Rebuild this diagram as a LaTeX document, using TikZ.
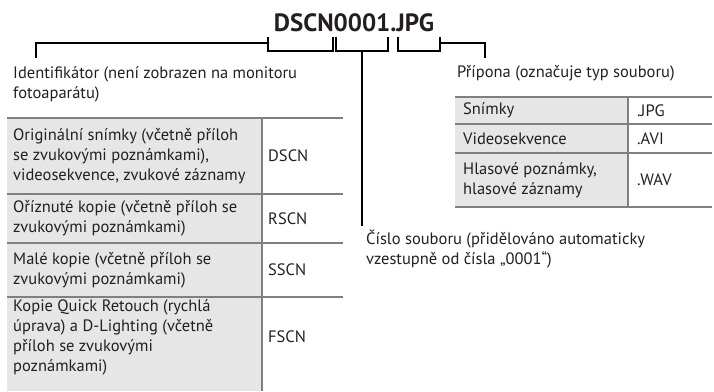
\documentclass[tikz,border=0pt]{standalone}
\usepackage{fontspec}
\setmainfont{PT Sans}
\definecolor{textc}{HTML}{231F20}
\definecolor{rulec}{HTML}{808080}
\definecolor{fillc}{HTML}{E6E6E6}
\begin{document}
\begin{tikzpicture}[x=1pt,y=-1pt,
  txt/.style={font=\fontsize{16.5}{20}\selectfont, text=textc, inner sep=0pt, align=left, anchor=west},
  rulex/.style={draw=rulec, line width=2.6pt},
  brk/.style={draw=black, line width=2pt},
  cellfill/.style={fill=fillc, draw=none}]
\useasboundingbox (0,0) rectangle (714,391);

% title
\node[font=\fontsize{25}{30}\selectfont\bfseries, text=textc, anchor=base, inner sep=0pt] (title) at (354,31) {DSCN0001.JPG};

% bracket coordinates
\coordinate (a1) at (268,37); \coordinate (a2) at (268,51);
\coordinate (a3) at (333,51); \coordinate (a4) at (333,37);
\coordinate (b1) at (336,37); \coordinate (b2) at (336,51);
\coordinate (b3) at (388,51); \coordinate (b4) at (388,37);
\coordinate (c1) at (398,37); \coordinate (c2) at (398,51);
\coordinate (c3) at (440,51); \coordinate (c4) at (440,37);
\coordinate (aL) at (268,43); \coordinate (aK) at (36,43); \coordinate (aE) at (36,58);
\coordinate (bM) at (362,51); \coordinate (bE) at (362,226);
\coordinate (cR) at (440,43); \coordinate (cK) at (485,43); \coordinate (cE) at (485,58);

\draw[brk] (a1) -- (a2) -- (a3) -- (a4);
\draw[brk] (b1) -- (b2) -- (b3) -- (b4);
\draw[brk] (c1) -- (c2) -- (c3) -- (c4);
\draw[brk] (aL) -- (aK) -- (aE);
\draw[brk] (bM) -- (bE);
\draw[brk] (cR) -- (cK) -- (cE);

% labels
\node[txt] (ident) at (13,84) {Identifikátor (není zobrazen na monitoru\\fotoaparátu)};
\node[txt] (pripona) at (457,73) {Přípona (označuje typ souboru)};
\node[txt] (cislo) at (366,249) {Číslo souboru (přidělováno automaticky\\vzestupně od čísla „0001“)};

% left table
\fill[fillc] (7,118) rectangle (262,391);
\draw[rulex] (7,118) -- (343,118);
\draw[rulex] (7,194) -- (343,194);
\draw[rulex] (7,243) -- (343,243);
\draw[rulex] (7,297) -- (343,297);
\draw[rulex] (262,118) -- (262,391);

\node[txt] (l1) at (13,156) {Originální snímky (včetně příloh\\se zvukovými poznámkami),\\videosekvence, zvukové záznamy};
\node[txt] (r1) at (268,156) {DSCN};
\node[txt] (l2) at (13,218.5) {Oříznuté kopie (včetně příloh se\\zvukovými poznámkami)};
\node[txt] (r2) at (268,218.5) {RSCN};
\node[txt] (l3) at (13,270) {Malé kopie (včetně příloh se\\zvukovými poznámkami)};
\node[txt] (r3) at (268,270) {SSCN};
\node[txt] (l4) at (13,337) {Kopie Quick Retouch (rychlá\\úprava) a D-Lighting (včetně\\příloh se zvukovými\\poznámkami)};
\node[txt] (r4) at (268,337) {FSCN};

% right table
\fill[fillc] (455,97) rectangle (628,207);
\draw[rulex] (455,97) -- (712,97);
\draw[rulex] (455,124) -- (712,124);
\draw[rulex] (455,153) -- (712,153);
\draw[rulex] (455,207) -- (712,207);
\draw[rulex] (628,97) -- (628,207);

\node[txt] (s1) at (463,110.5) {Snímky};
\node[txt] (t1) at (637,110.5) {.JPG};
\node[txt] (s2) at (463,138.5) {Videosekvence};
\node[txt] (t2) at (637,138.5) {.AVI};
\node[txt] (s3) at (463,180) {Hlasové poznámky,\\hlasové záznamy};
\node[txt] (t3) at (637,180) {.WAV};
\end{tikzpicture}
\end{document}
